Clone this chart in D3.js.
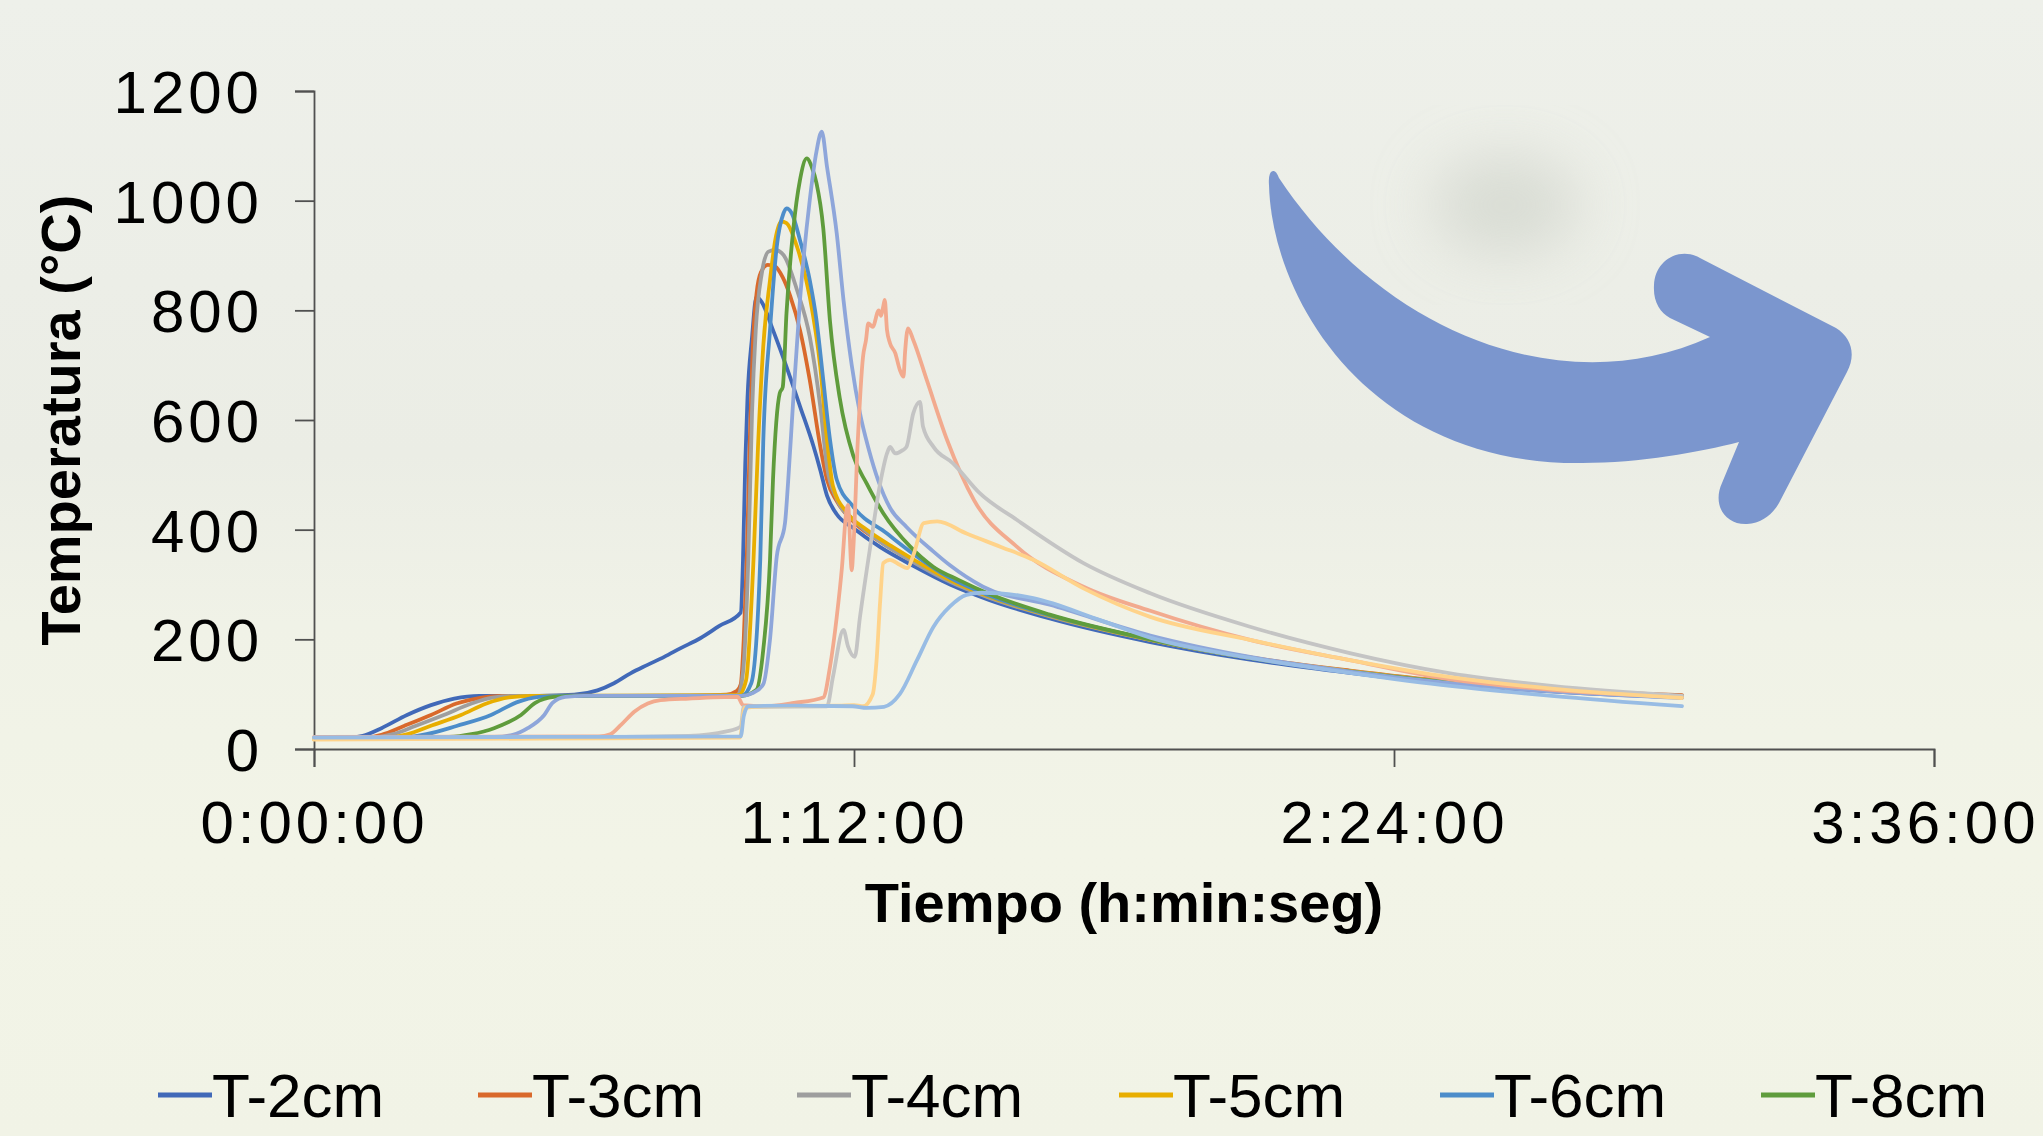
<!DOCTYPE html>
<html><head><meta charset="utf-8">
<script src="https://cdn.jsdelivr.net/npm/d3@7"></script>
<style>html,body{margin:0;padding:0;overflow:hidden;background:#F0F2E8}</style>
</head><body>
<svg id="chart" width="2043" height="1136"></svg>
<script>
// ---------- DATA (time in minutes, temperature in °C) ----------
const legendNames = ["T-2cm","T-3cm","T-4cm","T-5cm","T-6cm","T-8cm"];
const seriesColors = ["#4169B8","#D9692B","#9E9E9E","#E8AE00","#4C8DCA","#5F9C3C",
                      "#8EA6DA","#F2AA8E","#C4C4C4","#FFD38A","#98BCE4"];
const xTickValues = [0,72,144,216];
const xTickLabels = ["0:00:00","1:12:00","2:24:00","3:36:00"];
const yTickValues = [0,200,400,600,800,1000,1200];

const t2cm = [[0,19],[5,21],[6.5,24],[9,38],[12.4,62],[15.6,80],[18.7,92],[22,97],[30,97],[34.7,99],[37.8,107],[40,120],[42.2,138],[44.4,153],[46.7,168],[48.9,184],[51.5,202],[54,224],[56.9,249],[57.2,345],[57.5,520],[57.8,640],[58.4,750],[59,825],[59.7,815],[61.2,764],[63,697],[64.8,625],[66.6,552],[67.5,509],[68.4,462],[69.7,428],[71.9,403],[75.5,368],[79.9,334],[84.8,300],[90,272],[98.1,238],[111.5,195],[124.8,163],[138.1,139],[151.5,119],[165,105],[182.4,94]];
const t3cm = [[0,19],[7,21],[9,26],[12,42],[15.6,62],[19,83],[22,93],[25,97],[50,97],[55,99],[56.4,106],[56.9,118],[57.3,200],[57.7,345],[58.1,560],[58.5,734],[59,830],[59.6,870],[60.5,883],[61.5,880],[62.5,860],[63.5,826],[64.8,764],[66.1,673],[67.5,552],[68.4,491],[69.7,452],[71.9,415],[75.5,378],[79.9,342],[84.8,306],[90,277],[98.1,243],[111.5,200],[124.8,167],[138.1,143],[151.5,123],[165,109],[182.4,98]];
const t4cm = [[0,19],[8,21],[10.5,27],[13.5,42],[17.3,62],[21,83],[24,94],[27,97],[56.5,98],[57.2,140],[57.9,345],[58.4,612],[58.9,764],[59.7,867],[60.6,907],[61.5,910],[62.6,901],[64.4,837],[66.1,752],[67.5,625],[68.4,515],[69.7,456],[71.9,418],[75.5,378],[79.9,341],[84.8,305],[90,276],[98.1,242],[111.5,199],[124.8,166],[138.1,142],[151.5,122],[165,108],[182.4,97]];
const t5cm = [[0,18],[9.5,20],[12.5,27],[15.5,42],[19.6,62],[23,83],[26,94],[29,97],[56.6,98],[57.6,125],[58.6,345],[59.2,551],[59.9,734],[60.8,855],[61.5,928],[62.3,962],[63,959],[64.4,916],[66.1,825],[67.5,697],[68.4,564],[69.2,479],[71,432],[73.7,400],[77,370],[80,345],[84.8,308],[90,278],[98.1,243],[111.5,199],[124.8,166],[138.1,142],[151.5,122],[165,108],[182.4,96]];
const t6cm = [[0,19],[12,21],[15,27],[19,42],[23.6,62],[27,85],[30,95],[33,97],[57,97],[58.3,120],[59.5,345],[59.9,560],[60.8,764],[61.7,916],[62.6,977],[63,986],[63.7,977],[64.8,928],[66.1,855],[67,782],[67.9,673],[68.8,564],[69.7,491],[71.9,442],[76.4,393],[80,355],[84.8,312],[90,280],[98.1,244],[111.5,200],[124.8,166],[138.1,141],[151.5,121],[165,107],[182.4,95]];
const t8cm = [[0,19],[18,22],[21,27],[24,38],[27.6,62],[29.5,84],[32,95],[35,97],[57,97],[59,108],[59.9,181],[60.8,345],[61.2,491],[62.1,649],[62.5,660],[63,795],[63.9,947],[64.8,1038],[65.7,1077],[66.4,1060],[67,1032],[67.9,950],[68.8,780],[70.1,640],[71.9,535],[73.7,484],[75.9,430],[79.5,369],[82.6,332],[86,308],[90,283],[98.1,245],[111.5,200],[124.8,166],[138.1,141],[151.5,121],[165,107],[182.4,95]];
const s7 = [[0,20],[24,22],[26.5,26],[28.5,38],[30.7,62],[31.8,84],[33.5,95],[36,97],[57,97],[58.5,102],[59.9,118],[60.8,200],[61.7,351],[62.8,412],[63.2,484],[63.9,637],[64.8,819],[66.1,1001],[67,1090],[67.7,1126],[68.4,1062],[69.7,940],[70.6,819],[71.7,700],[72.8,612],[74,545],[75.2,491],[76.8,440],[79,405],[82.6,360],[84.8,335],[89.2,296],[98.1,263],[111.5,207],[124.8,168],[138.1,141],[151.5,120],[165,105],[182.4,93]];
const s8 = [[0,22],[38,23],[39.5,27],[41,45],[42.7,68],[44.5,83],[46.2,89],[50,92],[56.5,95],[57.2,80],[60,78],[64,84],[67.9,94],[68.8,150],[69.7,241],[70.4,332],[71,436],[71.2,445],[71.7,326],[71.9,363],[72.5,560],[73.2,715],[73.6,746],[73.9,776],[74.5,770],[75.3,800],[75.6,790],[75.9,807],[76.1,819],[76.4,764],[76.8,740],[77.5,722],[78.1,692],[78.6,679],[78.8,722],[79.2,767],[79.9,746],[81.7,673],[84.4,564],[88,454],[93.7,369],[102.6,296],[111.5,252],[124.8,199],[138.1,162],[151.5,127],[165,108],[182.4,95]];
const s9 = [[0,20],[30,21],[50,24],[55,32],[56.9,41],[57.3,77],[60,77],[68.4,78],[69.2,132],[70.6,217],[71.2,187],[72.1,168],[72.8,241],[74.1,363],[75.5,485],[76.4,539],[76.8,551],[77.5,539],[78.5,545],[79,551],[79.9,612],[80.8,633],[81.2,588],[82.6,551],[85.2,521],[88.8,466],[93.7,418],[102.6,339],[111.5,284],[124.8,223],[138.1,175],[151.5,138],[165,115],[182.4,97]];
const s10 = [[0,17],[30,19],[56.8,21],[57.4,75],[60,78],[70,79],[72,80],[73.2,78],[74.5,100],[75,160],[75.5,272],[75.9,339],[76.8,345],[78.1,336],[79.1,330],[80,357],[81.3,412],[83.1,415],[87,393],[91.5,369],[95.9,345],[102.6,293],[111.5,241],[124.8,199],[138.1,162],[151.5,131],[165,110],[182.4,93]];
const s11 = [[0,21],[30,22],[56.9,23],[57.3,60],[57.9,78],[64,79],[71.8,78],[73.7,75],[76,77],[78.1,100],[80.4,162],[82.6,223],[84.8,260],[87,281],[89,285],[91.5,284],[95.9,275],[104.8,235],[111.5,203],[124.8,166],[138.1,139],[151.5,115],[165,97],[182.4,78]];

const allSeries = [t2cm,t3cm,t4cm,t5cm,t6cm,t8cm,s7,s8,s9,s10,s11];

// ---------- LAYOUT ----------
const svg = d3.select("#chart");
const W = 2043, H = 1136;
const plot = {left:314, right:1934, top:91, bottom:749};
const FONT = "'Liberation Sans', Arial, sans-serif";

const defs = svg.append("defs");
const bg = defs.append("linearGradient").attr("id","bg").attr("x1",0).attr("y1",0).attr("x2",0).attr("y2",1);
[[0,"#EEF0EA"],[0.25,"#ECEEE7"],[0.4,"#EBEDE5"],[0.55,"#F0F2E7"],[0.75,"#F2F4E7"],[1,"#F1F3E6"]]
  .forEach(([o,c])=>bg.append("stop").attr("offset",o).attr("stop-color",c));
defs.append("filter").attr("id","blur").attr("x","-50%").attr("y","-50%").attr("width","200%").attr("height","200%")
  .append("feGaussianBlur").attr("stdDeviation",30);

svg.append("rect").attr("width",W).attr("height",H).attr("fill","url(#bg)");
svg.append("ellipse").attr("cx",1505).attr("cy",205).attr("rx",75).attr("ry",50)
  .attr("fill","#D2D6CD").attr("filter","url(#blur)").attr("opacity",0.75);

const x = d3.scaleLinear().domain([0,216]).range([plot.left, plot.right]);
const y = d3.scaleLinear().domain([0,1200]).range([plot.bottom, plot.top]);

// axes
const yAxis = d3.axisLeft(y).tickValues(yTickValues).tickSize(19).tickPadding(32).tickFormat(d3.format("d"));
const xAxis = d3.axisBottom(x).tickValues(xTickValues).tickSize(18).tickPadding(33)
  .tickFormat((d,i)=>xTickLabels[i]);

const gy = svg.append("g").attr("transform",`translate(${plot.left},0)`).call(yAxis);
const gx = svg.append("g").attr("transform",`translate(0,${plot.bottom})`).call(xAxis);
[gx,gy].forEach(g=>{
  g.selectAll("path.domain").attr("stroke","#505050").attr("stroke-width",1.8);
  g.selectAll(".tick line").attr("stroke","#505050").attr("stroke-width",1.8);
  g.selectAll("text").attr("fill","#000").style("font-family",FONT).style("font-size","60px")
    .style("letter-spacing","4px");
});
gy.selectAll("text").attr("dy","0.36em");
// keep the last x label inside the picture
gx.selectAll(".tick text").filter((d,i)=>i===xTickValues.length-1)
  .attr("text-anchor","end").attr("x",W - plot.right - 4);

// axis titles
svg.append("text").attr("x",(plot.left+plot.right)/2).attr("y",922)
  .attr("text-anchor","middle").style("font-family",FONT).style("font-size","56px").style("font-weight","bold")
  .text("Tiempo (h:min:seg)");
svg.append("text").attr("transform",`translate(80,${(plot.top+plot.bottom)/2}) rotate(-90)`)
  .attr("text-anchor","middle").style("font-family",FONT).style("font-size","56px").style("font-weight","bold")
  .text("Temperatura (°C)");

// lines
const line = d3.line().x(d=>x(d[0])).y(d=>y(d[1])).curve(d3.curveMonotoneX);
svg.append("g").selectAll("path").data(allSeries).join("path")
  .attr("d",line).attr("fill","none")
  .attr("stroke",(d,i)=>seriesColors[i]).attr("stroke-width",3.8)
  .attr("stroke-linejoin","round").attr("stroke-linecap","round");

// arrow decoration
svg.append("path")
  .attr("d","M1273,171 Q1268,172 1269,185 C1272,300 1370,465 1582,463 C1640,463 1700,452 1739,442 "+
            "L1722,483 C1712,505 1725,525 1747,524 C1762,523 1772,515 1779,503 "+
            "L1847,372 C1856,355 1852,338 1836,328 L1700,258 C1680,246 1655,260 1654,285 "+
            "C1653,302 1660,312 1670,318 L1710,337 C1560,405 1380,330 1279,178 Q1276,170 1273,171 Z")
  .attr("fill","#7B96CE");

// legend
const legendX = [158,478,797,1119,1440,1761];
const lg = svg.append("g").selectAll("g").data(legendNames).join("g")
  .attr("transform",(d,i)=>`translate(${legendX[i]},1095)`);
lg.append("line").attr("x1",0).attr("x2",54).attr("y1",0).attr("y2",0)
  .attr("stroke",(d,i)=>seriesColors[i]).attr("stroke-width",5);
lg.append("text").attr("x",54).attr("y",22).style("font-family",FONT).style("font-size","62px")
  .attr("fill","#000").text(d=>d);
</script>
</body></html>
